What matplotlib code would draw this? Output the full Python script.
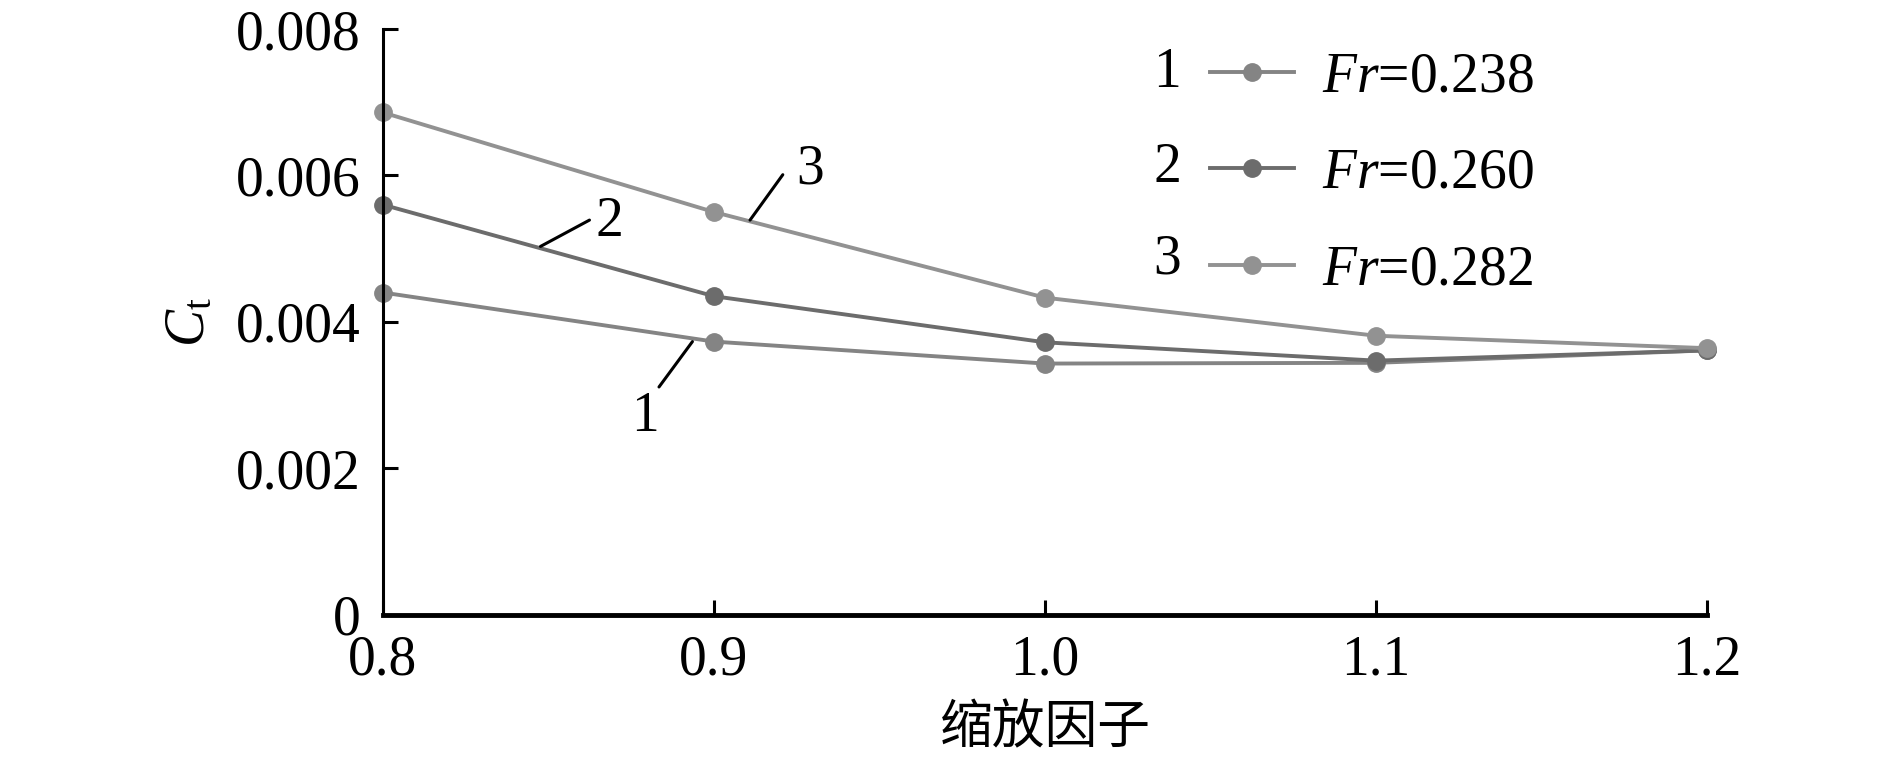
import matplotlib
matplotlib.use('Agg')
import matplotlib.pyplot as plt

# scale factor on x, Ct on y
scale = [0.8, 0.9, 1.0, 1.1, 1.2]
ct_fr238 = [0.00440, 0.00373, 0.00343, 0.00344, 0.00361]
ct_fr260 = [0.00560, 0.00435, 0.00372, 0.00347, 0.00361]
ct_fr282 = [0.00686, 0.00550, 0.00433, 0.00381, 0.00364]
fr_labels = ['0.238', '0.260', '0.282']
colors = ['#848484', '#6c6c6c', '#929292']

plt.rcParams['font.family'] = ['Liberation Serif', 'Noto Sans CJK SC']
plt.rcParams['mathtext.fontset'] = 'custom'
plt.rcParams['mathtext.rm'] = 'Liberation Serif'
plt.rcParams['mathtext.it'] = 'Liberation Serif:italic'

fig = plt.figure(figsize=(18.9, 7.64), dpi=100)
ax = fig.add_axes([0.2026, 0.1955, 0.7006, 0.7665])

series = [ct_fr238, ct_fr260, ct_fr282]
for vals, c, fr in zip(series, colors, fr_labels):
    ax.plot(scale, vals, color=c, lw=2.8, marker='o', markersize=12.5,
            label=r'$\mathit{Fr}$=' + fr)

ax.set_xlim(0.8, 1.2)
ax.set_ylim(0, 0.008)
ax.set_xticks(scale)
ax.set_xticklabels(['0.8', '0.9', '1.0', '1.1', '1.2'])
ax.set_yticks([0, 0.002, 0.004, 0.006, 0.008])
ax.set_yticklabels(['0', '0.002', '0.004', '0.006', '0.008'])
ax.tick_params(direction='in', length=11, width=2.2, labelsize=40, pad=16)
ax.tick_params(axis='x', pad=14)

for s in ['top', 'right']:
    ax.spines[s].set_visible(False)
ax.spines['left'].set_linewidth(2.2)
ax.spines['bottom'].set_linewidth(3.5)
for ln in ax.lines:
    ln.set_clip_on(False)

ax.set_ylabel(r'$C_\mathrm{t}$', fontsize=40, labelpad=14)
ax.set_xlabel('缩放因子', fontsize=38, family='Noto Sans CJK SC', labelpad=10)

leg = ax.legend(loc='upper left', bbox_to_anchor=(0.625, 0.962), frameon=False,
                fontsize=40, handlelength=1.5, handletextpad=0.5,
                labelspacing=0.8, borderpad=0, borderaxespad=0)

# series numbers next to legend entries
for i, y in enumerate([0.904, 0.780, 0.660]):
    fig.text(0.6175, y, str(i + 1), fontsize=40, ha='center', va='center')

# leader lines and labels on the curves
leaders = [
    ('3', (0.9109, 0.00539), (0.9208, 0.00601), (0.9290, 0.00608)),
    ('2', (0.8476, 0.00503), (0.8624, 0.00539), (0.8685, 0.00537)),
    ('1', (0.8834, 0.00311), (0.8935, 0.00373), (0.8793, 0.00270)),
]
for lab, p0, p1, pt in leaders:
    ax.annotate('', xy=p1, xytext=p0,
                arrowprops=dict(arrowstyle='-', color='black', lw=2.2,
                                shrinkA=0, shrinkB=0))
    ax.text(pt[0], pt[1], lab, fontsize=40, ha='center', va='center')

fig.savefig('out.png', dpi=100)
